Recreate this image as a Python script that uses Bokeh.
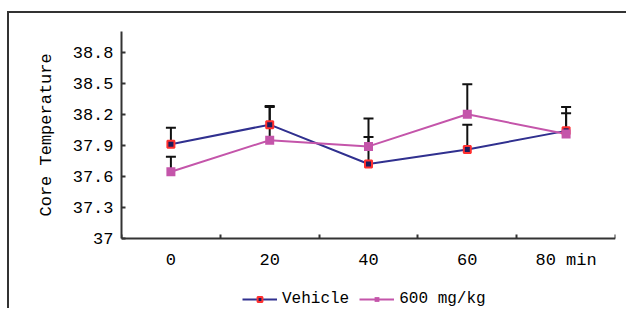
from bokeh.plotting import figure
from bokeh.models import (FixedTicker, Whisker, TeeHead, ColumnDataSource, Legend,
                          LegendItem, Range1d, Title)
from bokeh.embed import file_html
from bokeh.resources import INLINE

# ---- data ----
times = [0, 1, 2, 3, 4]
time_labels = ["0", "20", "40", "60", "80 min"]
vehicle = [37.91, 38.10, 37.72, 37.86, 38.04]
vehicle_sem = [0.16, 0.18, 0.26, 0.24, 0.23]
dose = [37.645, 37.95, 37.89, 38.20, 38.01]
dose_sem = [0.145, 0.32, 0.27, 0.29, 0.20]
y_ticks = [37, 37.3, 37.6, 37.9, 38.2, 38.5, 38.8]
y_tick_labels = ["37", "37.3", "37.6", "37.9", "38.2", "38.5", "38.8"]
y_axis_min, y_axis_max = 37, 39

FONT = "Liberation Mono"
VEH_LINE = "#30308f"
VEH_FILL = "#1c1c5c"
VEH_EDGE = "#ff3030"
DOSE = "#c455aa"

# frame spans from the top of the axis to the bottom of the canvas so that the
# legend (below the x axis) is drawn inside it; the x axis sits at y = 37
H, TOP, AXIS_Y = 308, 31, 238
px_per_unit = (AXIS_Y - TOP) / (y_axis_max - y_axis_min)
y_low = y_axis_min - (H - AXIS_Y) / px_per_unit

p = figure(width=626, height=H, output_backend="svg", toolbar_location=None,
           x_range=Range1d(-0.5, 4.5), y_range=Range1d(y_low, y_axis_max),
           min_border_left=121, min_border_right=11, min_border_top=TOP,
           min_border_bottom=0)
p.grid.visible = False
p.outline_line_color = None
p.background_fill_color = "white"
p.border_fill_alpha = 0
p.styles = {
    "background-color": "white",
    "background-image": "linear-gradient(#333333, #333333), linear-gradient(#333333, #333333)",
    "background-size": "2px 100%, 100% 2px",
    "background-position": "7px 11px, 7px 11px",
    "background-repeat": "no-repeat",
}

src_v = ColumnDataSource(dict(x=times, y=vehicle,
                              up=[m + s for m, s in zip(vehicle, vehicle_sem)]))
src_d = ColumnDataSource(dict(x=times, y=dose,
                              up=[m + s for m, s in zip(dose, dose_sem)]))

for src in (src_d, src_v):
    w = Whisker(source=src, base="x", upper="up", lower="y", dimension="height",
                line_color="#111111", line_width=2, lower_head=None,
                upper_head=TeeHead(size=10, line_color="#111111", line_width=2))
    p.add_layout(w)

lv = p.line("x", "y", source=src_v, line_color=VEH_LINE, line_width=2)
ld = p.line("x", "y", source=src_d, line_color=DOSE, line_width=2)
mv = p.scatter("x", "y", source=src_v, marker="square", size=7,
               fill_color=VEH_FILL, line_color=VEH_EDGE, line_width=2)
md = p.scatter("x", "y", source=src_d, marker="square", size=9,
               fill_color=DOSE, line_color=None)

# x axis
xa = p.xaxis[0]
xa.fixed_location = y_axis_min
xa.ticker = FixedTicker(ticks=times, minor_ticks=[-0.5, 0.5, 1.5, 2.5, 3.5, 4.5])
xa.major_label_overrides = {t: l for t, l in zip(times, time_labels)}
xa.major_tick_in = 0
xa.major_tick_out = 0
xa.minor_tick_in = 4
xa.minor_tick_out = 0
xa.minor_tick_line_color = "#333333"
xa.minor_tick_line_width = 2
xa.axis_line_color = "#333333"
xa.axis_line_width = 2
xa.major_label_text_font = FONT
xa.major_label_text_font_size = "17px"
xa.major_label_text_color = "black"
xa.major_label_standoff = 12

# y axis
ya = p.yaxis[0]
ya.bounds = (y_axis_min, y_axis_max)
ya.ticker = FixedTicker(ticks=y_ticks)
ya.major_label_overrides = {t: l for t, l in zip(y_ticks, y_tick_labels)}
ya.major_tick_in = 4
ya.major_tick_out = 0
ya.major_tick_line_color = "#333333"
ya.major_tick_line_width = 2
ya.minor_tick_line_color = None
ya.axis_line_color = "#333333"
ya.axis_line_width = 2
ya.major_label_text_font = FONT
ya.major_label_text_font_size = "17px"
ya.major_label_text_color = "black"
ya.major_label_standoff = 8

# y axis title, placed along the 37-39 part of the axis
p.add_layout(Title(text="Core Temperature", align="left", offset=92,
                   text_font=FONT, text_font_size="17px",
                   text_font_style="normal", text_color="black",
                   standoff=28), "left")

legend = Legend(items=[LegendItem(label="Vehicle", renderers=[lv, mv]),
                       LegendItem(label="600 mg/kg", renderers=[ld, md])],
                location=(121, 0), orientation="horizontal",
                glyph_width=35, glyph_height=12, label_height=12,
                label_standoff=5, spacing=10, padding=0, margin=0,
                border_line_alpha=0, background_fill_alpha=0,
                label_text_font=FONT, label_text_font_size="16px",
                label_text_color="black")
p.add_layout(legend, "center")

open("out.html", "w").write(file_html(p, INLINE))
